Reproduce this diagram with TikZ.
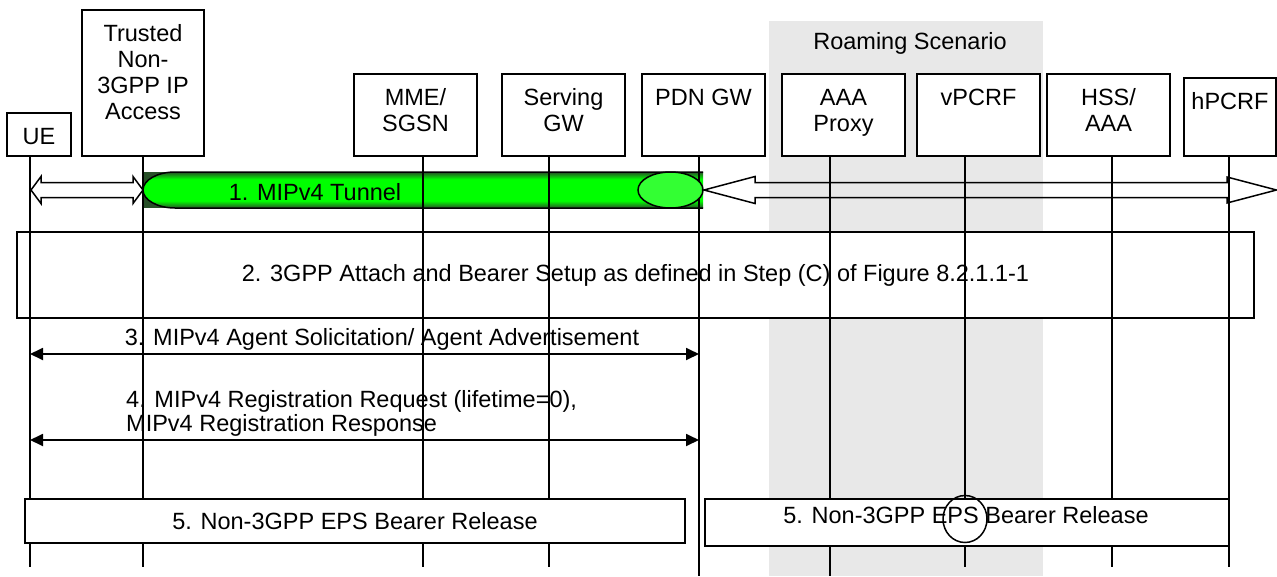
\documentclass[tikz,border=0pt]{standalone}
\usepackage{fontspec}
\setmainfont{Liberation Sans}
\usetikzlibrary{positioning,arrows.meta,shapes.geometric}

\definecolor{roamgray}{RGB}{232,232,232}
\definecolor{tundark}{RGB}{40,80,40}
\definecolor{tungreen}{RGB}{0,255,0}
\definecolor{tunlight}{RGB}{51,255,51}
\pgfdeclareverticalshading{tunnelshade}{100bp}{color(0bp)=(tundark); color(25bp)=(tundark); color(35bp)=(tungreen); color(65bp)=(tungreen); color(75bp)=(tundark); color(100bp)=(tundark)}

\tikzset{
  every node/.style={font=\fontsize{23.5}{26}\selectfont},
  entity/.style={draw, fill=white, line width=1.5pt, inner sep=0pt},
  entitytext/.style={align=center, inner sep=0pt},
  life/.style={line width=1.5pt},
  stepbox/.style={draw, fill=white, line width=2pt, inner sep=0pt},
  relbox/.style={draw, fill=white, line width=1.5pt, inner sep=0pt},
  tunline/.style={line width=1.5pt},
  hollow/.style={line width=1.5pt},
  msg/.style={line width=1.8pt, {Triangle[length=13pt,width=12pt]}-{Triangle[length=13pt,width=12pt]}}
}

\begin{document}
\begin{tikzpicture}[x=1pt,y=-1pt]
  \useasboundingbox (0,0) rectangle (1277,576);

  % Roaming area
  \fill[roamgray] (769,21) rectangle (1043,576);
  \node (roam) at (910,43) {Roaming Scenario};

  % Entities
  \node[entity, minimum width=64pt, minimum height=43pt] (ue) at (39,134.5) {};
  \node[entitytext, below=15.5pt of ue.north] (uetext) {UE};
  \node[entity, minimum width=122pt, minimum height=146pt] (tna) at (143,83) {};
  \node[entitytext, below=15.5pt of tna.north] (tnatext) {Trusted\\Non-\\3GPP IP\\Access};
  \node[entity, minimum width=123pt, minimum height=82pt] (mme) at (415.5,115) {};
  \node[entitytext, below=15.5pt of mme.north] (mmetext) {MME/\\SGSN};
  \node[entity, minimum width=123pt, minimum height=82pt] (sgw) at (563.5,115) {};
  \node[entitytext, below=15.5pt of sgw.north] (sgwtext) {Serving\\GW};
  \node[entity, minimum width=123pt, minimum height=82pt] (pgw) at (703.5,115) {};
  \node[entitytext, below=15.5pt of pgw.north] (pgwtext) {PDN GW};
  \node[entity, minimum width=123pt, minimum height=82pt] (aaa) at (843.5,115) {};
  \node[entitytext, below=15.5pt of aaa.north] (aaatext) {AAA\\Proxy};
  \node[entity, minimum width=123pt, minimum height=82pt] (vpcrf) at (978.5,115) {};
  \node[entitytext, below=15.5pt of vpcrf.north] (vpcrftext) {vPCRF};
  \node[entity, minimum width=123pt, minimum height=82pt] (hss) at (1108.5,115) {};
  \node[entitytext, below=15.5pt of hss.north] (hsstext) {HSS/\\AAA};
  \node[entity, minimum width=92pt, minimum height=78pt] (hpcrf) at (1230,117) {};
  \node[entitytext, below=15.5pt of hpcrf.north] (hpcrftext) {hPCRF};

  % Lifeline ends
  \coordinate (ueend) at (30,567);
  \coordinate (tnaend) at (143,567);
  \coordinate (mmeend) at (423,567);
  \coordinate (sgwend) at (549,567);
  \coordinate (pgwend) at (699,576);
  \coordinate (aaaend) at (830,576);
  \coordinate (vpcrfend) at (965,567);
  \coordinate (hssend) at (1112,567);
  \coordinate (hpcrfend) at (1229,567);

  % Step 2
  \node[stepbox, minimum width=1237pt, minimum height=86pt] (attach) at (635.5,275) {2. 3GPP Attach and Bearer Setup as defined in Step (C) of Figure 8.2.1.1-1};

  % Tunnel
  \fill[tundark] (143,172) rectangle (703,208);
  \shade[shading=tunnelshade] (703,172) -- (175,172) .. controls (157.3,172) and (143,180.1) .. (143,190) .. controls (143,199.9) and (157.3,208) .. (175,208) -- (703,208) -- cycle;
  \draw[tunline] (703,172) -- (175,172) .. controls (157.3,172) and (143,180.1) .. (143,190) .. controls (143,199.9) and (157.3,208) .. (175,208) -- (703,208);
  \node (tuntext) at (315,192) {1. MIPv4 Tunnel};

  % Lifelines
  \draw[life] (ue.south -| ueend) -- (ueend);
  \draw[life] (tna.south -| tnaend) -- (tnaend);
  \draw[life] (mme.south -| mmeend) -- (mmeend);
  \draw[life] (sgw.south -| sgwend) -- (sgwend);
  \draw[life] (pgw.south -| pgwend) -- (pgwend);
  \draw[life] (aaa.south -| aaaend) -- (aaaend);
  \draw[life] (vpcrf.south -| vpcrfend) -- (vpcrfend);
  \draw[life] (hss.south -| hssend) -- (hssend);
  \draw[life] (hpcrf.south -| hpcrfend) -- (hpcrfend);

  \node[draw, ellipse, fill=tunlight, line width=1.5pt, minimum width=65pt, minimum height=36pt, inner sep=0pt] (tunend) at (670.5,190) {};

  % Hollow arrows
  \draw[hollow, fill=white] (31,190) -- (41,176.5) -- (41,182.5) -- (133,182.5) -- (133,176.5) -- (143,190) -- (133,203.5) -- (133,197.5) -- (41,197.5) -- (41,203.5) -- cycle;
  \draw[hollow] (704,190) -- (755,176.5) -- (755,182.5) -- (1227,182.5) -- (1227,177) -- (1276.5,190) -- (1227,203) -- (1227,197.5) -- (755,197.5) -- (755,203.5) -- cycle;

  % Messages
  \coordinate (m3l) at (30,354);
  \coordinate (m3r) at (699,354);
  \draw[msg] (m3l) -- (m3r);
  \node[inner sep=0pt] (m3text) at (382,339) {3. MIPv4 Agent Solicitation/ Agent Advertisement};

  \coordinate (m4l) at (30,440);
  \coordinate (m4r) at (699,440);
  \draw[msg] (m4l) -- (m4r);
  \node[anchor=north west, align=left, inner sep=0pt, font=\fontsize{23.5}{24}\selectfont] (m4text) at (126,390) {4. MIPv4 Registration Request (lifetime=0),\\MIPv4 Registration Response};

  % Step 5
  \node[relbox, minimum width=660pt, minimum height=44pt] (rel1) at (355,521) {5. Non-3GPP EPS Bearer Release};
  \node[relbox, minimum width=524pt, minimum height=47pt] (rel2) at (967,522.5) {};
  \node (rel2text) at (966,515) {5. Non-3GPP EPS Bearer Release};
  \node[draw, ellipse, line width=1.5pt, minimum width=44pt, minimum height=47pt, inner sep=0pt] (epsmark) at (965,519) {};
\end{tikzpicture}
\end{document}
